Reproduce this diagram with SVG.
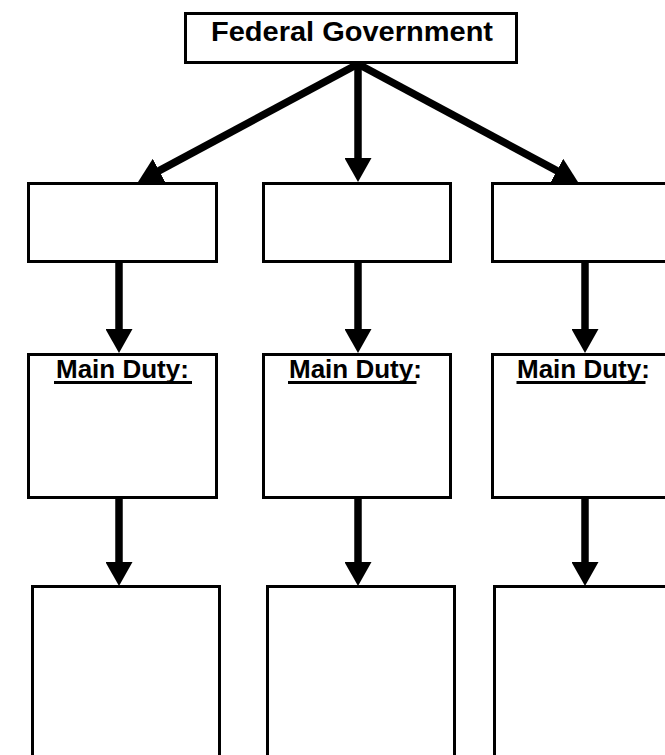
<svg xmlns="http://www.w3.org/2000/svg" width="665" height="755" viewBox="0 0 665 755">
<style>
.box{fill:#fff;stroke:#000;stroke-width:3}
.title{font-family:"Liberation Sans",Arial,sans-serif;font-weight:bold;font-size:28.5px;fill:#000}
.duty{font-family:"Liberation Sans",Arial,sans-serif;font-weight:bold;font-size:26px;fill:#000}
.ul{stroke:#000;stroke-width:3}
.arr{fill:none;stroke:#000;stroke-width:7.5;marker-end:url(#ah)}
</style>
<defs>
<marker id="ah" markerUnits="userSpaceOnUse" markerWidth="24" markerHeight="27" refX="2" refY="13.5" orient="auto" viewBox="0 0 24 27">
<path d="M0,0 L24,13.5 L0,27 z" fill="#000"/>
</marker>
</defs>
<rect width="665" height="755" fill="#fff"/>
<g id="connectors">
<path class="arr" d="M358,64 L157.4,171.6"/>
<path class="arr" d="M358,64 L358,160"/>
<path class="arr" d="M358,64 L558.6,171.6"/>
<path class="arr" d="M119,263 L119,331"/>
<path class="arr" d="M358,263 L358,331"/>
<path class="arr" d="M585,263 L585,331"/>
<path class="arr" d="M119,499 L119,564"/>
<path class="arr" d="M358,499 L358,564"/>
<path class="arr" d="M585,499 L585,564"/>
</g>
<g id="federal">
<rect class="box" x="185.5" y="13.5" width="331" height="49"/>
<text class="title" x="352" y="41" text-anchor="middle" textLength="282" lengthAdjust="spacingAndGlyphs">Federal Government</text>
</g>
<g id="branch1"><rect class="box" x="28.5" y="183.5" width="188" height="78"/></g>
<g id="branch2"><rect class="box" x="263.5" y="183.5" width="187" height="78"/></g>
<g id="branch3"><rect class="box" x="492.5" y="183.5" width="188" height="78"/></g>
<g id="duty1">
<rect class="box" x="28.5" y="354.5" width="188" height="143"/>
<text class="duty" x="56" y="377.5">Main Duty:</text>
<line class="ul" x1="54" y1="382.5" x2="192" y2="382.5"/>
</g>
<g id="duty2">
<rect class="box" x="263.5" y="354.5" width="187" height="143"/>
<text class="duty" x="289" y="377.5">Main Duty:</text>
<line class="ul" x1="288" y1="382.5" x2="416.5" y2="382.5"/>
</g>
<g id="duty3">
<rect class="box" x="492.5" y="354.5" width="188" height="143"/>
<text class="duty" x="517" y="377.5">Main Duty:</text>
<line class="ul" x1="516.5" y1="382.5" x2="645.5" y2="382.5"/>
</g>
<g id="detail1"><rect class="box" x="32.5" y="586.5" width="187" height="200"/></g>
<g id="detail2"><rect class="box" x="267.5" y="586.5" width="187" height="200"/></g>
<g id="detail3"><rect class="box" x="494.5" y="586.5" width="188" height="200"/></g>
</svg>
